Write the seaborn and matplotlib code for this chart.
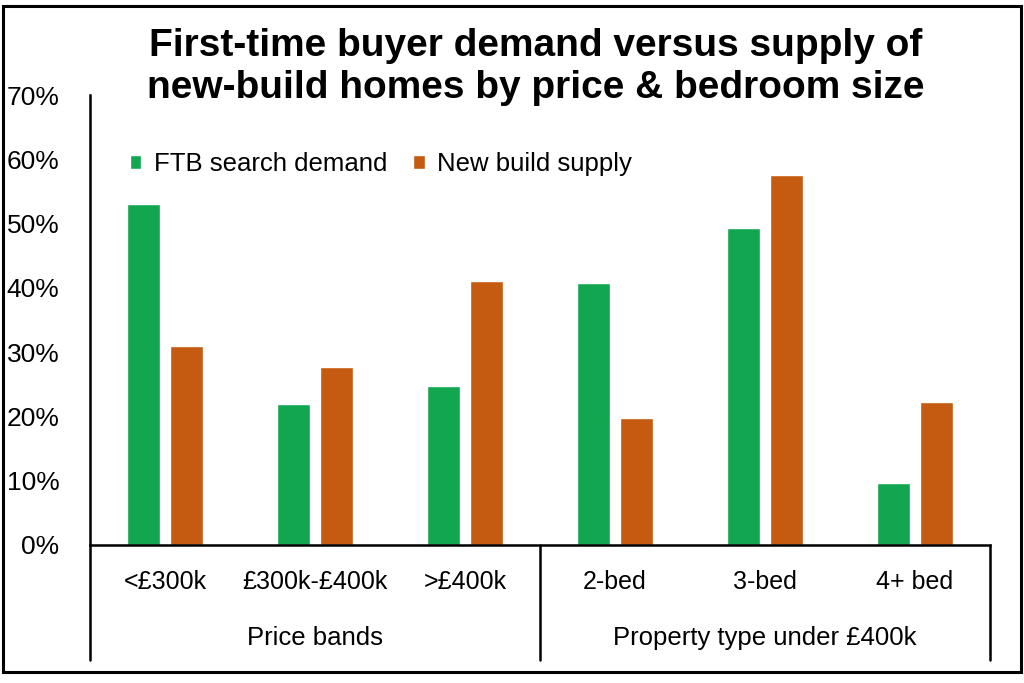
import matplotlib
matplotlib.use("Agg")
import matplotlib.pyplot as plt
import seaborn as sns
import pandas as pd
from matplotlib.patches import Rectangle
from matplotlib.lines import Line2D
from matplotlib.ticker import FuncFormatter

categories = ["<£300k", "£300k-£400k", ">£400k", "2-bed", "3-bed", "4+ bed"]
demand = [53.0, 22.0, 24.8, 40.7, 49.3, 9.6]
supply = [30.9, 27.7, 41.0, 19.8, 57.6, 22.3]
series = ["FTB search demand", "New build supply"]
groups = ["Price bands", "Property type under £400k"]
yticks = [0, 10, 20, 30, 40, 50, 60, 70]

df = pd.DataFrame({
    "category": categories * 2,
    "value": demand + supply,
    "series": [series[0]] * len(categories) + [series[1]] * len(categories),
})

sns.set_theme(style="white")
fam = ["Liberation Sans Narrow", "Liberation Sans", "DejaVu Sans"]
plt.rcParams["font.family"] = fam
plt.rcParams["text.color"] = "black"

W, H = 1024, 683
fig = plt.figure(figsize=(W / 100, H / 100), dpi=100)
ax_l, ax_r, ax_t, ax_b = 90, 990, 95, 545
ax = fig.add_axes([ax_l / W, (H - ax_b) / H, (ax_r - ax_l) / W, (ax_b - ax_t) / H])

sns.barplot(data=df, x="category", y="value", hue="series", order=categories,
            hue_order=series, palette=["#13A651", "#C55A11"], width=0.573,
            gap=0.23, ax=ax, legend=True, saturation=1)

ax.set_xlim(-0.5, 5.5)
ax.set_ylim(0, 70)
ax.set_yticks(yticks)
ax.yaxis.set_major_formatter(FuncFormatter(lambda v, p: f"{int(v)}%"))
ax.set_xlabel("")
ax.set_ylabel("")
for s in ["top", "right"]:
    ax.spines[s].set_visible(False)
for s in ["left", "bottom"]:
    ax.spines[s].set_linewidth(1.8)
    ax.spines[s].set_color("black")
ax.tick_params(axis="y", length=0, pad=22, labelsize=19, colors="black")
ax.tick_params(axis="x", length=0, pad=18, labelsize=18, colors="black")

# group separators
sep_bottom = (ax_b - 660) / (ax_b - ax_t)
for xv in [-0.5, 2.5, 5.5]:
    ax.add_line(Line2D([xv, xv], [0, sep_bottom], transform=ax.get_xaxis_transform(),
                       color="black", lw=1.8, clip_on=False))
grp_y = (ax_b - 638) / (ax_b - ax_t)
for gx, g in zip([1, 4], groups):
    ax.text(gx, grp_y, g, transform=ax.get_xaxis_transform(), ha="center", va="center",
            fontsize=18.5, color="black")

handles, labels = ax.get_legend_handles_labels()
leg = ax.legend(handles, labels, loc="center left", bbox_to_anchor=(0.044, 0.846), ncol=2,
                frameon=False, fontsize=18.5, handlelength=0.45, handleheight=0.45,
                handletextpad=0.5, columnspacing=1.0, borderpad=0, borderaxespad=0)
for t in leg.get_texts():
    t.set_color("black")

fig.text(536 / W, 1 - 67 / H, "First-time buyer demand versus supply of\nnew-build homes by price & bedroom size",
         ha="center", va="center", fontsize=28, fontweight="bold", color="black",
         family=["Liberation Sans", "DejaVu Sans"], linespacing=1.22)

fig.patches.append(Rectangle((3 / W, (H - 672) / H), 1018 / W, 666 / H, transform=fig.transFigure,
                             fill=False, edgecolor="black", lw=2.2))

fig.savefig("out.png", dpi=100, facecolor="white")
